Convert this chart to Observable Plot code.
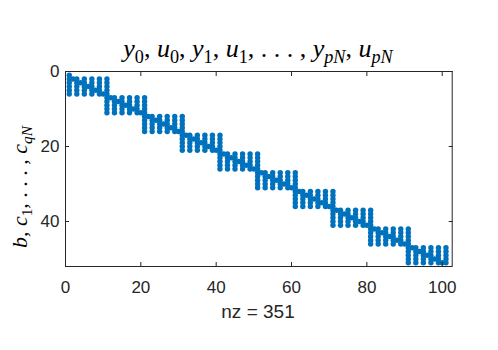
<!DOCTYPE html>
<html><head><meta charset="utf-8">
<script src="https://cdn.jsdelivr.net/npm/d3@7"></script>
<script src="https://cdn.jsdelivr.net/npm/@observablehq/plot@0.6"></script>
<style>body{margin:0;background:#fff}</style>
</head><body><div id="chart"></div>
<script>
// Sparsity pattern of the constraint Jacobian (spy plot), nz = 351
const bRow = [{row: 1, col: 1}];                       // boundary row b
const blockRowStarts = [1, 6, 11, 16, 21, 26, 31, 36, 41, 46]; // rows before each block
const blockColStarts = [0, 10, 20, 30, 40, 50, 60, 70, 80, 90]; // cols before each block
// columns used by each of the 5 rows inside a block (relative)
const blockRowCols = [
  [1, 2, 3, 5, 7, 9, 11],
  [1, 3, 4, 5, 7, 9, 11],
  [1, 3, 5, 6, 7, 9, 11],
  [1, 3, 5, 7, 8, 9, 11],
  [1, 3, 5, 7, 9, 10, 11]
];
const xTicks = [0, 20, 40, 60, 80, 100];
const yTicks = [0, 20, 40];
const xDomain = [0, 102.65];
const yDomain = [0, 52];

const points = [...bRow];
blockRowStarts.forEach((r0, k) => {
  blockRowCols.forEach((cols, i) => {
    cols.forEach(c => points.push({row: r0 + i + 1, col: blockColStarts[k] + c}));
  });
});

const axisColor = "#262626";
const chart = Plot.plot({
  width: 498, height: 350,
  marginLeft: 65, marginRight: 46.3, marginTop: 71, marginBottom: 84,
  x: {domain: xDomain},
  y: {domain: yDomain, reverse: true},
  style: {fontFamily: "'Liberation Sans', Arial, sans-serif", fontSize: "17px", color: axisColor, background: "#fff"},
  marks: [
    Plot.dot(points, {x: "col", y: "row", r: 2.7, fill: "#0072BD", stroke: null}),
    Plot.frame({stroke: axisColor, strokeWidth: 1}),
    Plot.axisX(xTicks, {anchor: "bottom", tickSize: 0, tickPadding: 14, label: null}),
    Plot.axisX(xTicks, {anchor: "bottom", tickSize: -4, tickFormat: () => "", label: null, stroke: axisColor}),
    Plot.axisX(xTicks, {anchor: "top", tickSize: -4, tickFormat: () => "", label: null, stroke: axisColor}),
    Plot.axisY(yTicks, {anchor: "left", tickSize: 0, tickPadding: 6, label: null}),
    Plot.axisY(yTicks, {anchor: "left", tickSize: -4, tickFormat: () => "", label: null, stroke: axisColor}),
    Plot.axisY(yTicks, {anchor: "right", tickSize: -4, tickFormat: () => "", label: null, stroke: axisColor})
  ]
});
document.getElementById("chart").appendChild(chart);

const svg = d3.select(chart);
function mathText(sel, parts, size) {
  parts.forEach(p => {
    const t = sel.append("tspan").text(p.t);
    if (p.i) t.attr("font-style", "italic");
    if (p.sub) t.attr("font-size", size * 0.7).attr("baseline-shift", -size * 0.22);
  });
}
const titleParts = [
  {t: "y", i: 1}, {t: "0", sub: 1}, {t: ", "}, {t: "u", i: 1}, {t: "0", sub: 1}, {t: ", "},
  {t: "y", i: 1}, {t: "1", sub: 1}, {t: ", "}, {t: "u", i: 1}, {t: "1", sub: 1}, {t: ", . . . , "},
  {t: "y", i: 1}, {t: "pN", sub: 1, i: 1}, {t: ", "}, {t: "u", i: 1}, {t: "pN", sub: 1, i: 1}
];
const title = svg.append("text")
  .attr("x", 258).attr("y", 57).attr("text-anchor", "middle")
  .attr("font-family", "'Liberation Serif', 'Times New Roman', serif").attr("font-size", 26).attr("fill", "#000");
mathText(title, titleParts, 26);

const yParts = [
  {t: "b", i: 1}, {t: ", "}, {t: "c", i: 1}, {t: "1", sub: 1}, {t: ", . . . , "}, {t: "c", i: 1}, {t: "qN", sub: 1, i: 1}
];
const ylab = svg.append("text")
  .attr("transform", "translate(27,187) rotate(-90)").attr("text-anchor", "middle")
  .attr("font-family", "'Liberation Serif', 'Times New Roman', serif").attr("font-size", 22).attr("fill", "#000");
mathText(ylab, yParts, 22);

svg.append("text").attr("x", 258).attr("y", 318).attr("text-anchor", "middle")
  .attr("font-family", "'Liberation Sans', Arial, sans-serif").attr("font-size", 19).attr("fill", axisColor)
  .text("nz = 351");
</script>
</body></html>
